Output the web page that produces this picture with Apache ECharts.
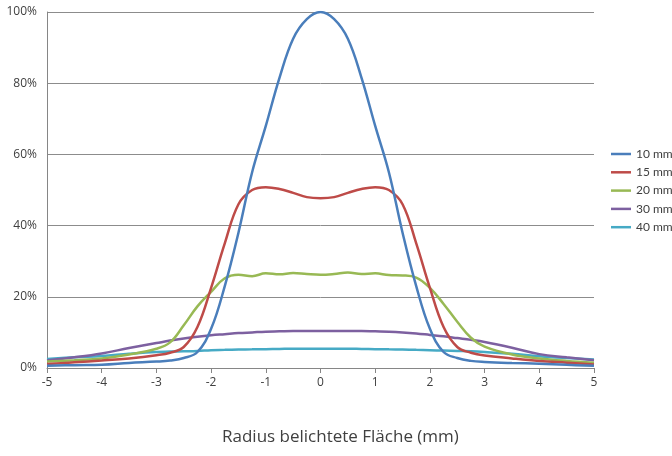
<!DOCTYPE html>
<html>
<head>
<meta charset="utf-8">
<script src="https://cdn.jsdelivr.net/npm/echarts@6/dist/echarts.min.js"></script>
<style>html,body{margin:0;padding:0;background:#fff}#c{width:672px;height:456px}</style>
</head>
<body>
<div id="c"></div>
<script>
const xValues = [-5,-4.5,-4,-3.5,-3,-2.75,-2.5,-2.25,-2,-1.75,-1.5,-1.25,-1,-0.75,-0.5,-0.25,0,0.25,0.5,0.75,1,1.25,1.5,1.75,2,2.25,2.5,2.75,3,3.5,4,4.5,5];
const seriesNames = ['10 mm','15 mm','20 mm','30 mm','40 mm'];
const s10 = [0.6,0.8,0.9,1.4,1.8,2.1,2.8,4.5,11,23,38,55,68,81.5,92.5,98,100,98,92.5,81.5,68,55,38,23,11,4.5,2.8,2.0,1.7,1.4,1.2,0.9,0.6];
const s15 = [1.1,1.6,2.1,2.7,3.6,4.3,5.9,11.5,22.5,35,46,50,50.8,50.3,49.2,48,47.7,48,49.2,50.3,50.8,50,46,35,22.5,11.5,5.9,4.3,3.5,2.7,2.0,1.5,1.0];
const s20 = [1.8,2.2,2.7,3.8,5.4,7.2,12,17.3,21.4,25.2,26.2,25.8,26.6,26.3,26.7,26.4,26.2,26.4,26.8,26.4,26.6,26.1,26.0,25.4,22.5,18,13,8.5,6.0,3.8,2.7,2.0,1.5];
const s30 = [2.1,3.0,4.1,5.6,7.0,7.7,8.3,8.8,9.2,9.5,9.8,10.0,10.2,10.3,10.4,10.4,10.4,10.4,10.4,10.4,10.3,10.2,10.0,9.7,9.3,8.9,8.4,7.9,7.3,5.7,3.9,3.0,2.2];
const s40 = [2.5,3.0,3.4,4.0,4.5,4.6,4.7,4.8,5.0,5.1,5.2,5.25,5.3,5.35,5.4,5.4,5.4,5.4,5.4,5.35,5.3,5.25,5.2,5.1,5.0,4.9,4.8,4.7,4.5,4.0,3.3,2.8,2.4];
const colors = ['#4A7EBB','#BE4B48','#98B954','#7D60A0','#46AAC5'];
const allSeries = [s10,s15,s20,s30,s40];
const axisTitle = 'Radius belichtete Fläche (mm)';

const chart = echarts.init(document.getElementById('c'), null, {renderer:'canvas'});
chart.setOption({
  animation:false,
  backgroundColor:'#fff',
  color:colors,
  textStyle:{fontFamily:'"Open Sans", "DejaVu Sans", sans-serif'},
  graphic:[{
    type:'text', left:222, top:429,
    style:{text:axisTitle, fontSize:17, fill:'#404040', fontFamily:'"Open Sans", sans-serif'}
  }],
  legend:{
    orient:'vertical', left:611, top:147, padding:0,
    icon:'rect', itemWidth:20, itemHeight:2.5, itemGap:4.3,
    data:seriesNames,
    textStyle:{fontSize:12,color:'#404040',lineHeight:14,fontFamily:'Lato, "Open Sans", sans-serif'}
  },
  grid:{left:47,right:78,top:12,bottom:88,containLabel:false},
  xAxis:{
    type:'value', min:-5, max:5, interval:1,
    axisLine:{show:true,onZero:true,lineStyle:{color:'#868686',width:1}},
    axisTick:{show:true,length:5,lineStyle:{color:'#868686'}},
    axisLabel:{fontSize:12,color:'#404040',margin:9},
    splitLine:{show:false}
  },
  yAxis:{
    type:'value', min:0, max:100, interval:20,
    axisLine:{show:true,onZero:false,lineStyle:{color:'#868686',width:1}},
    axisTick:{show:false},
    axisLabel:{fontSize:12,color:'#404040',formatter:'{value}%',margin:10},
    splitLine:{show:true,lineStyle:{color:'#8c8c8c',width:1}}
  },
  series: seriesNames.map((n,i)=>({
    name:n, type:'line', smooth:0.4, symbol:'none', z: 10-i,
    lineStyle:{width:2.5,color:colors[i]},
    itemStyle:{color:colors[i]},
    data:xValues.map((x,j)=>[x,allSeries[i][j]])
  }))
});
</script>
</body>
</html>
